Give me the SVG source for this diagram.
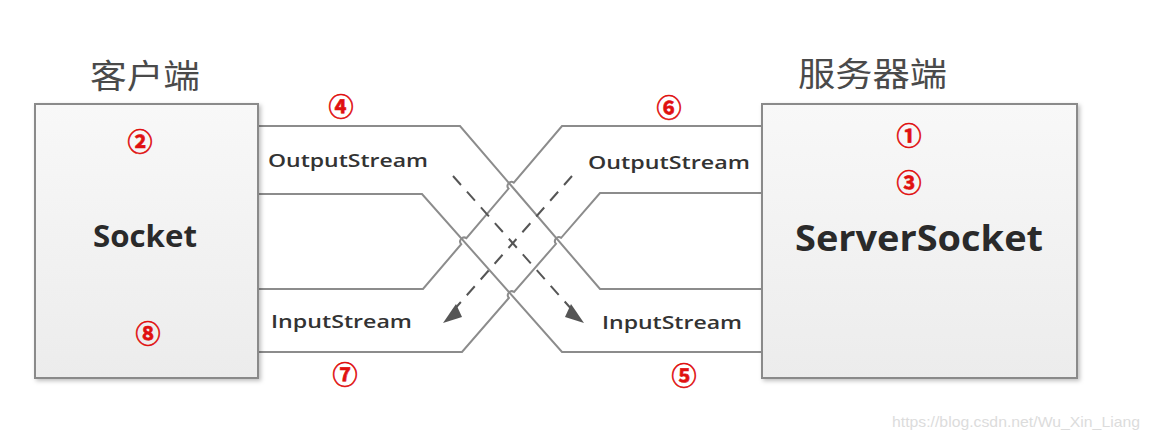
<svg xmlns="http://www.w3.org/2000/svg" width="1150" height="439" viewBox="0 0 1150 439">
<style>
.box{fill:url(#boxg);stroke:#8a8a8a;stroke-width:2;filter:url(#sh)}
.ln{fill:none;stroke:#8c8c8c;stroke-width:2}
.dash{fill:none;stroke:#555;stroke-width:2;stroke-dasharray:12 9}
.head{fill:#555}
.title{font-family:"Noto Sans CJK SC","Noto Sans CJK JP",sans-serif;font-size:33px;fill:#4a4a4a}
.stream{font-family:"Open Sans","Liberation Sans",sans-serif;font-weight:600;font-size:18px;fill:#333}
.big{font-family:"Open Sans","Liberation Sans",sans-serif;font-weight:700;fill:#2a2a2a}
.num{font-family:"Noto Sans CJK SC","DejaVu Sans",sans-serif;font-weight:700;font-size:25px;fill:#e01010;stroke:#e01010;stroke-width:0.6;text-anchor:middle}
.wm{font-family:"Liberation Sans",Arial,sans-serif;font-size:15px;fill:#dcdcdc}
</style>
<defs>
<linearGradient id="boxg" x1="0" y1="0" x2="0" y2="1">
<stop offset="0" stop-color="#f8f8f8"/>
<stop offset="1" stop-color="#ececec"/>
</linearGradient>
<filter id="sh" x="-10%" y="-10%" width="120%" height="120%">
<feDropShadow dx="2" dy="2" stdDeviation="2" flood-color="#000" flood-opacity="0.25"/>
</filter>
</defs>
<rect width="1150" height="439" fill="#fff"/>

<g id="connectors">
<path class="ln" d="M258,126 H460 L600,289 H762"/>
<path class="ln" d="M258,194 H422 L562,352 H762"/>
<path class="ln" d="M258,289 H423 L461.2,244.2 A4,4 0 0 1 466.4,238.2 L508.6,188.6 A4,4 0 0 1 513.8,182.6 L562,126 H762"/>
<path class="ln" d="M258,352 H462 L508.9,298 A4,4 0 0 1 514.1,292 L556,243.8 A4,4 0 0 1 561.2,237.8 L600,193 H762"/>
<line class="dash" x1="453" y1="176" x2="574" y2="312"/>
<line class="dash" x1="572" y1="176" x2="452" y2="312"/>
<path class="head" d="M584,323 L571,304 L565,317 z"/>
<path class="head" d="M443,323 L462,317 L456,304 z"/>
</g>

<g id="client">
<rect class="box" x="35" y="104" width="223" height="274"/>
<text class="title" x="90" y="88" textLength="110" lengthAdjust="spacingAndGlyphs">客户端</text>
<text class="big" x="93" y="247" font-size="30" textLength="104" lengthAdjust="spacingAndGlyphs">Socket</text>
<text class="num" x="140" y="151">②</text>
<text class="num" x="148" y="343">⑧</text>
</g>

<g id="server">
<rect class="box" x="762" y="104" width="315" height="274"/>
<text class="title" x="798" y="86" textLength="149" lengthAdjust="spacingAndGlyphs">服务器端</text>
<text class="big" x="795" y="251" font-size="36" textLength="248" lengthAdjust="spacingAndGlyphs">ServerSocket</text>
<text class="num" x="909" y="145">①</text>
<text class="num" x="909" y="192">③</text>
</g>

<g id="client-output">
<text class="stream" x="268" y="167" textLength="160" lengthAdjust="spacingAndGlyphs">OutputStream</text>
<text class="num" x="341" y="116">④</text>
</g>
<g id="client-input">
<text class="stream" x="271" y="328" textLength="141" lengthAdjust="spacingAndGlyphs">InputStream</text>
<text class="num" x="345" y="384">⑦</text>
</g>
<g id="server-output">
<text class="stream" x="588" y="169" textLength="162" lengthAdjust="spacingAndGlyphs">OutputStream</text>
<text class="num" x="669" y="117">⑥</text>
</g>
<g id="server-input">
<text class="stream" x="602" y="329" textLength="140" lengthAdjust="spacingAndGlyphs">InputStream</text>
<text class="num" x="684" y="385">⑤</text>
</g>

<text class="wm" x="892" y="427" textLength="248" lengthAdjust="spacingAndGlyphs">https://blog.csdn.net/Wu_Xin_Liang</text>
</svg>
